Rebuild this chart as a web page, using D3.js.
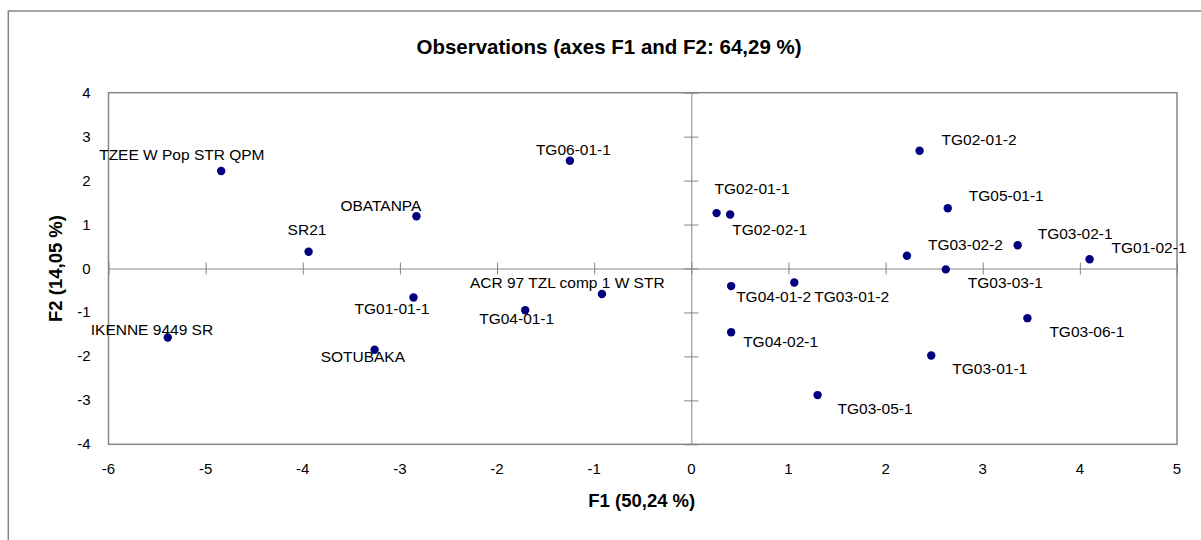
<!DOCTYPE html>
<html lang="en">

<head>
    <meta charset="UTF-8">
    <title>Observations (axes F1 and F2)</title>
    <style>
        body,
        html {
            margin: 0;
            padding: 0;
            background: #fff;
            overflow: hidden;
        }

        svg {
            display: block;
            font-family: "Liberation Sans", Arial, sans-serif;
        }

        .tick-label {
            font-size: 15px;
            fill: #000;
        }

        .obs-label {
            font-size: 15.5px;
            fill: #000;
        }

        .title {
            font-size: 20.5px;
            font-weight: bold;
        }

        .axis-title {
            font-size: 18.5px;
            font-weight: bold;
        }
    </style>
</head>

<body>
    <svg width="1201" height="540"></svg>

    <script src="https://d3js.org/d3.v7.min.js"></script>
    <script>
        // observation names and their F1 / F2 coordinates
        const names = [
            'TZEE W Pop STR QPM', 'SR21', 'OBATANPA', 'TG06-01-1',
            'TG02-01-2', 'TG02-01-1', 'TG02-02-1', 'TG05-01-1',
            'TG03-02-2', 'TG03-02-1', 'TG01-02-1', 'TG03-03-1',
            'ACR 97 TZL comp 1 W STR', 'TG04-01-2', 'TG03-01-2', 'TG04-02-1',
            'TG03-06-1', 'TG03-01-1', 'TG03-05-1', 'TG01-01-1',
            'TG04-01-1', 'IKENNE 9449 SR', 'SOTUBAKA'
        ];
        const f1 = [
            -4.84, -3.94, -2.83, -1.25,
            2.35, 0.26, 0.40, 2.64,
            2.22, 3.36, 4.10, 2.62,
            -0.92, 0.41, 1.06, 0.41,
            3.46, 2.47, 1.30, -2.86,
            -1.71, -5.39, -3.26
        ];
        const f2 = [
            2.22, 0.38, 1.19, 2.45,
            2.68, 1.26, 1.23, 1.37,
            0.29, 0.53, 0.21, -0.02,
            -0.58, -0.40, -0.32, -1.45,
            -1.13, -1.98, -2.88, -0.66,
            -0.95, -1.57, -1.85
        ];
        const xTicks = [-6, -5, -4, -3, -2, -1, 0, 1, 2, 3, 4, 5];
        const yTicks = [-4, -3, -2, -1, 0, 1, 2, 3, 4];

        const titleText = 'Observations (axes F1 and F2: 64,29 %)';
        const xTitle = 'F1 (50,24 %)';
        const yTitle = 'F2 (14,05 %)';

        // where each label sits relative to its point (px: dx to text start, dy to baseline)
        const labelOffsets = [
            [-122, -11], [-21, -17], [-76, -5], [-34, -6],
            [22, -6], [-2, -19], [2, 21], [21, -7],
            [21, -6], [20, -6], [22, -6], [22, 19],
            [-132, -6], [5, 16], [20, 19], [12, 15],
            [22, 19], [21, 18], [20, 19], [-59, 16],
            [-46, 14], [-77, -3], [-54, 12]
        ];

        const points = names.map((n, i) => ({ name: n, x: f1[i], y: f2[i], off: labelOffsets[i] }));

        const svg = d3.select("svg");
        const plot = { left: 108.5, right: 1177, top: 92.7, bottom: 444.3 };
        const grey = "#868686";

        const x = d3.scaleLinear().domain([-6, 5]).range([plot.left, plot.right]);
        const y = d3.scaleLinear().domain([-4, 4]).range([plot.bottom, plot.top]);

        // chart area border (runs off the right and bottom edges)
        svg.append("rect")
            .attr("x", 8.3).attr("y", 11)
            .attr("width", 1300).attr("height", 600)
            .attr("fill", "none")
            .attr("stroke", grey)
            .attr("stroke-width", 1.5);

        svg.append("text")
            .attr("class", "title")
            .attr("x", 609).attr("y", 54)
            .attr("text-anchor", "middle")
            .text(titleText);

        // plot area border
        svg.append("rect")
            .attr("x", plot.left).attr("y", plot.top)
            .attr("width", plot.right - plot.left)
            .attr("height", plot.bottom - plot.top)
            .attr("fill", "none")
            .attr("stroke", grey)
            .attr("stroke-width", 1.5);

        // horizontal axis through y = 0, ticks crossing it
        const gx = svg.append("g")
            .attr("transform", `translate(0,${y(0)})`)
            .call(d3.axisBottom(x).tickValues(xTicks).tickSize(0).tickFormat(""));
        gx.select(".domain").attr("stroke", grey);
        gx.selectAll(".tick line").remove();
        gx.selectAll(".tick").append("line")
            .attr("y1", -6).attr("y2", 6)
            .attr("stroke", grey);

        // vertical axis through x = 0
        const gy = svg.append("g")
            .attr("transform", `translate(${x(0)},0)`)
            .call(d3.axisLeft(y).tickValues(yTicks).tickSize(0).tickFormat(""));
        gy.select(".domain").attr("stroke", grey);
        gy.selectAll(".tick line").remove();
        gy.selectAll(".tick").append("line")
            .attr("x1", -7).attr("x2", 7)
            .attr("stroke", grey);

        // tick labels sit at the plot edges (low position)
        svg.append("g").selectAll("text")
            .data(xTicks)
            .enter().append("text")
            .attr("class", "tick-label")
            .attr("x", d => x(d))
            .attr("y", plot.bottom + 30)
            .attr("text-anchor", "middle")
            .text(d => d);

        svg.append("g").selectAll("text")
            .data(yTicks)
            .enter().append("text")
            .attr("class", "tick-label")
            .attr("x", plot.left - 18)
            .attr("y", d => y(d) + 5)
            .attr("text-anchor", "end")
            .text(d => d);

        svg.append("text")
            .attr("class", "axis-title")
            .attr("x", (plot.left + plot.right) / 2 - 1)
            .attr("y", 507)
            .attr("text-anchor", "middle")
            .text(xTitle);

        svg.append("text")
            .attr("class", "axis-title")
            .attr("transform", `translate(62,${(plot.top + plot.bottom) / 2}) rotate(-90)`)
            .attr("text-anchor", "middle")
            .text(yTitle);

        // observations
        svg.append("g").selectAll("circle")
            .data(points)
            .enter().append("circle")
            .attr("cx", d => x(d.x))
            .attr("cy", d => y(d.y))
            .attr("r", 4.2)
            .attr("fill", "#00007f");

        svg.append("g").selectAll("text")
            .data(points)
            .enter().append("text")
            .attr("class", "obs-label")
            .attr("x", d => x(d.x) + d.off[0])
            .attr("y", d => y(d.y) + d.off[1])
            .text(d => d.name);
    </script>
</body>

</html>
